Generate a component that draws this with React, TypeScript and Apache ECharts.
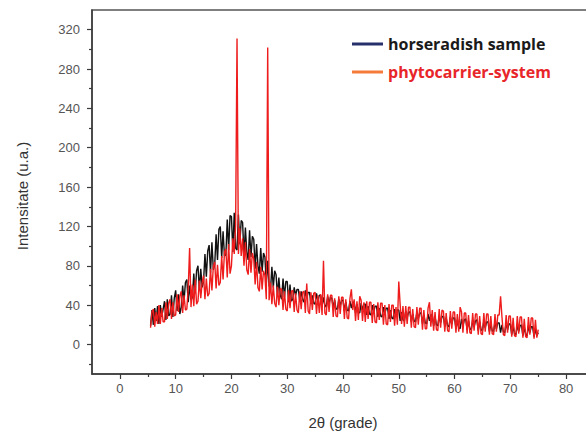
import React, { useEffect, useRef } from "react";
import * as echarts from "echarts";

// 2θ scan grid of both patterns (degrees)
const angleStart = 5.5;
const angleStep = 0.25;

// horseradish sample, 5.5° … 75°
const horseradish = [
  19, 35,
  20, 37, 24, 39,
  21, 40, 28, 36,
  44, 25, 46, 29,
  31, 50, 28, 47,
  55, 34, 51, 31,
  38, 60, 44, 63,
  66, 43, 60, 45,
  48, 72, 52, 75,
  80, 55, 77, 58,
  64, 92, 69, 95,
  101, 73, 104, 76,
  81, 112, 86, 117,
  120, 88, 115, 90,
  91, 127, 96, 131,
  130, 94, 134, 98,
  96, 132, 102, 126,
  124, 90, 119, 94,
  86, 116, 89, 110,
  107, 77, 102, 80,
  72, 98, 74, 93,
  89, 62, 85, 60,
  55, 79, 58, 75,
  71, 49, 68, 50,
  46, 67, 48, 64,
  64, 43, 61, 44,
  46, 58, 50, 56,
  56, 44, 54, 46,
  43, 55, 47, 53,
  53, 41, 50, 42,
  41, 52, 44, 50,
  50, 39, 48, 40,
  38, 49, 42, 48,
  47, 37, 45, 36,
  36, 46, 39, 45,
  45, 34, 43, 35,
  34, 44, 37, 43,
  43, 32, 41, 33,
  32, 42, 35, 41,
  41, 30, 39, 31,
  30, 40, 33, 39,
  39, 28, 37, 29,
  28, 38, 31, 37,
  37, 26, 35, 27,
  26, 36, 29, 35,
  35, 24, 33, 25,
  24, 34, 27, 33,
  33, 23, 31, 24,
  23, 33, 26, 32,
  32, 21, 30, 22,
  21, 31, 24, 30,
  30, 19, 28, 20,
  19, 29, 22, 28,
  29, 18, 27, 19,
  18, 28, 21, 27,
  27, 16, 25, 17,
  16, 26, 19, 25,
  26, 15, 24, 16,
  15, 25, 18, 24,
  25, 14, 23, 15,
  14, 24, 17, 23,
  23, 13, 21, 14,
  13, 23, 16, 22,
  22, 12, 20, 13,
  12, 22, 15, 21,
  21, 10, 19, 11,
  10, 20, 13, 19,
  20, 9, 18, 10,
  9, 19, 12, 18,
  18, 8, 16, 9,
  12,
];

// phytocarrier-system, 5.5° … 75°
const phytocarrier = [
  17, 33,
  36, 18, 33, 21,
  40, 21, 37, 23,
  23, 43, 26, 42,
  46, 26, 43, 29,
  30, 51, 33, 49,
  54, 32, 50, 35,
  36, 57, 98, 38,
  61, 39, 66, 41,
  44, 65, 47, 63,
  70, 46, 67, 49,
  52, 77, 55, 79,
  84, 57, 81, 60,
  63, 90, 66, 94,
  97, 68, 102, 72,
  80, 108, 92, 121,
  311, 92, 118, 90,
  108, 80, 104, 76,
  71, 97, 73, 93,
  87, 61, 84, 58,
  54, 79, 56, 75,
  70, 46, 302, 45,
  63, 41, 60, 42,
  38, 59, 40, 57,
  56, 35, 54, 36,
  34, 55, 37, 54,
  55, 33, 52, 35,
  32, 54, 36, 53,
  54, 32, 62, 34,
  31, 53, 35, 52,
  53, 31, 50, 32,
  51, 30, 85, 32,
  30, 51, 33, 50,
  50, 28, 47, 29,
  28, 49, 31, 48,
  48, 26, 46, 27,
  26, 47, 56, 35,
  46, 24, 44, 25,
  49, 45, 24, 43,
  23, 44, 26, 43,
  43, 22, 41, 23,
  22, 43, 25, 42,
  42, 20, 40, 21,
  20, 41, 23, 40,
  40, 19, 38, 20,
  64, 40, 21, 39,
  18, 39, 21, 38,
  38, 17, 36, 18,
  17, 38, 20, 37,
  37, 15, 35, 16,
  16, 37, 43, 18,
  35, 14, 33, 15,
  14, 36, 17, 35,
  34, 13, 32, 14,
  13, 34, 16, 33,
  33, 12, 31, 13,
  38, 33, 12, 32,
  32, 11, 30, 12,
  11, 32, 14, 31,
  31, 10, 29, 11,
  10, 32, 13, 31,
  31, 10, 29, 11,
  10, 31, 13, 30,
  30, 49, 28, 10,
  9, 30, 12, 29,
  29, 8, 27, 9,
  8, 29, 11, 28,
  28, 7, 26, 8,
  7, 28, 10, 27,
  27, 6, 25, 7,
  15,
];

const seriesNames = ["horseradish sample", "phytocarrier-system"];
const xTicks = [0, 10, 20, 30, 40, 50, 60, 70, 80];
const xMinorTicks = [5, 15, 25, 35, 45, 55, 65, 75];
const yTicks = [0, 40, 80, 120, 160, 200, 240, 280, 320];
const yMinorTicks = [-20, 20, 60, 100, 140, 180, 220, 260, 300];

const toPoints = (vals: number[]) =>
  vals.map((v, i) => [angleStart + i * angleStep, v]);

export default function App() {
  const ref = useRef<HTMLDivElement>(null);

  useEffect(() => {
    if (!ref.current) return;
    const chart = echarts.init(ref.current, null, { renderer: "svg" });
    const axisColor = "#3a3a3a";
    const font = "Liberation Sans";
    chart.setOption({
      animation: false,
      backgroundColor: "#ffffff",
      grid: {
        left: 92,
        top: 10,
        right: 6,
        bottom: 58,
        show: true,
        borderColor: "#555",
        borderWidth: 1.5,
      },
      legend: {
        orient: "vertical",
        left: 352,
        top: 36,
        padding: 0,
        itemWidth: 31,
        itemHeight: 3,
        itemGap: 12,
        icon: "rect",
        selectedMode: false,
        textStyle: {
          fontFamily: "Open Sans",
          fontWeight: "bold",
          fontSize: 16,
        },
        data: [
          {
            name: seriesNames[0],
            itemStyle: { color: "#26306a" },
            textStyle: { color: "#1a1a1a" },
          },
          {
            name: seriesNames[1],
            itemStyle: { color: "#f47b3a" },
            textStyle: { color: "#e8262a" },
          },
        ],
      },
      xAxis: [
        {
          type: "value",
          min: -5,
          max: 85,
          position: "bottom",
          axisLine: {
            show: true,
            onZero: false,
            lineStyle: { color: axisColor, width: 1.5 },
          },
          axisTick: {
            show: true,
            customValues: xTicks,
            length: 5,
            lineStyle: { color: axisColor, width: 1.2 },
          },
          axisLabel: {
            customValues: xTicks,
            margin: 8,
            color: "#555",
            fontSize: 13,
            fontFamily: font,
          },
          splitLine: { show: false },
          name: "2θ (grade)",
          nameLocation: "middle",
          nameGap: 41,
          nameTextStyle: { fontSize: 15, color: "#333", fontFamily: font },
        },
        {
          type: "value",
          min: -5,
          max: 85,
          position: "bottom",
          axisLine: { show: false, onZero: false },
          axisTick: {
            show: true,
            customValues: xMinorTicks,
            length: 3,
            lineStyle: { color: axisColor, width: 1.2 },
          },
          axisLabel: { show: false },
          splitLine: { show: false },
        },
      ],
      yAxis: [
        {
          type: "value",
          min: -30,
          max: 340,
          position: "left",
          axisLine: {
            show: true,
            onZero: false,
            lineStyle: { color: axisColor, width: 1.5 },
          },
          axisTick: {
            show: true,
            customValues: yTicks,
            length: 5,
            lineStyle: { color: axisColor, width: 1.2 },
          },
          axisLabel: {
            customValues: yTicks,
            margin: 12,
            color: "#555",
            fontSize: 13,
            fontFamily: font,
          },
          splitLine: { show: false },
        },
        {
          type: "value",
          min: -30,
          max: 340,
          position: "left",
          axisLine: { show: false, onZero: false },
          axisTick: {
            show: true,
            customValues: yMinorTicks,
            length: 3,
            lineStyle: { color: axisColor, width: 1.2 },
          },
          axisLabel: { show: false },
          splitLine: { show: false },
        },
      ],
      graphic: [
        {
          type: "text",
          x: 22,
          y: 196,
          rotation: Math.PI / 2,
          style: {
            text: "Intensitate (u.a.)",
            fontSize: 15,
            fontFamily: font,
            fill: "#333",
            align: "center",
            verticalAlign: "middle",
          },
        },
      ],
      series: [
        {
          name: seriesNames[0],
          type: "line",
          data: toPoints(horseradish),
          showSymbol: false,
          symbol: "none",
          lineStyle: { color: "#111111", width: 1.4 },
          itemStyle: { color: "#111111" },
          xAxisIndex: 0,
          yAxisIndex: 0,
        },
        {
          name: seriesNames[1],
          type: "line",
          data: toPoints(phytocarrier),
          showSymbol: false,
          symbol: "none",
          lineStyle: { color: "#ee1c1c", width: 1.4 },
          itemStyle: { color: "#ee1c1c" },
          xAxisIndex: 0,
          yAxisIndex: 0,
        },
      ],
    });
    return () => chart.dispose();
  }, []);

  return (
    <div
      style={{
        position: "fixed",
        left: 0,
        top: 0,
        width: 586,
        height: 435,
        overflow: "hidden",
        background: "#fff",
      }}
    >
      <div ref={ref} style={{ width: 600, height: 435 }} />
    </div>
  );
}
